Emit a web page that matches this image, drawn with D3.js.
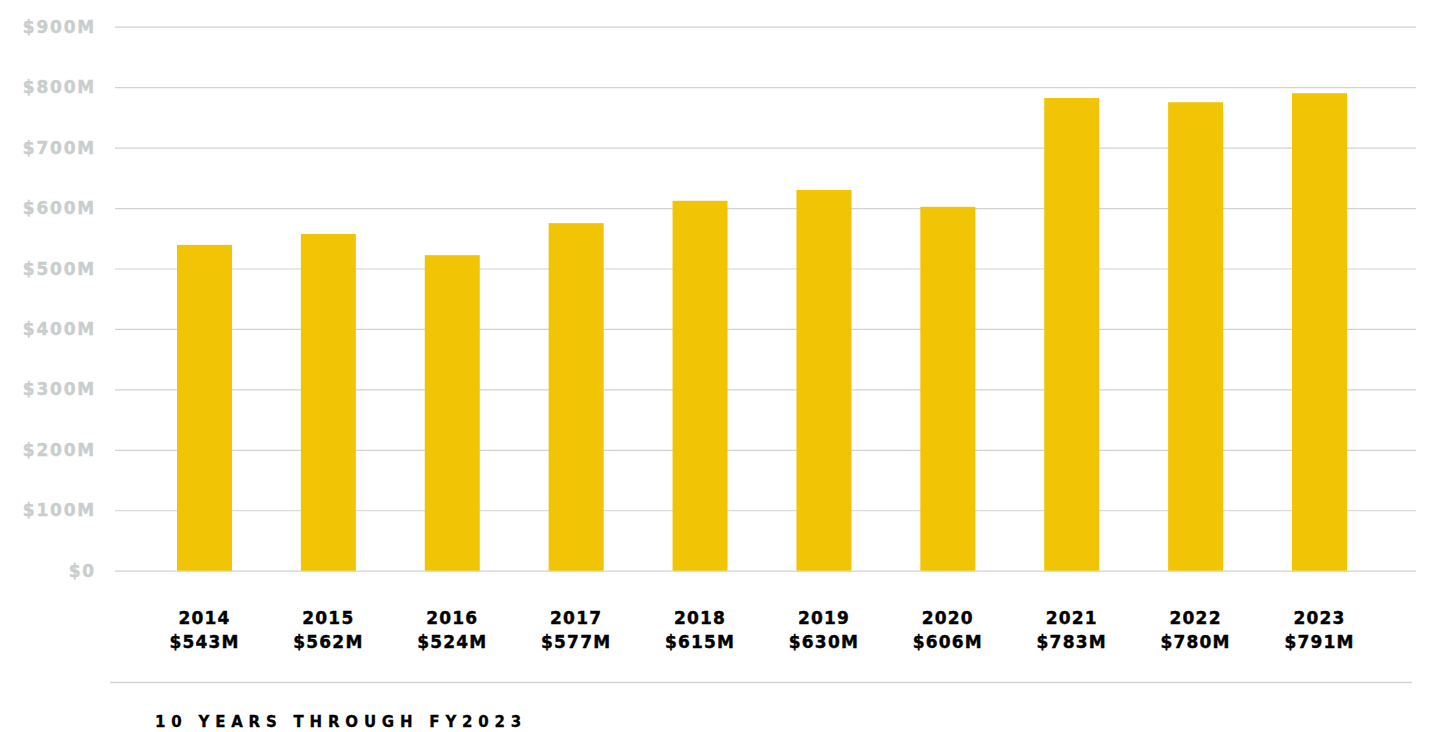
<!DOCTYPE html>
<html lang="en">
<head>
<meta charset="UTF-8">
<script src="https://d3js.org/d3.v7.min.js"></script>
<title>10 years through FY2023</title>
<style>
  body { margin: 0; background: #fff; }
  svg { display: block; }
  .ylab { font: bold 17px "DejaVu Sans", sans-serif; fill: #c9cecd; stroke: #c9cecd; stroke-width: 0.4px; letter-spacing: 1.8px; }
  .xlab { font: bold 17px "DejaVu Sans", sans-serif; fill: #000; stroke: #000; stroke-width: 0.4px; letter-spacing: 1.2px; }
  .foot { font: bold 15px "DejaVu Sans", sans-serif; fill: #000; stroke: #000; stroke-width: 0.3px; letter-spacing: 5.8px; }
</style>
</head>
<body>
<svg></svg>
<script>
const years = ["2014", "2015", "2016", "2017", "2018", "2019", "2020", "2021", "2022", "2023"];
// bar heights as drawn, in $M
const values = [539, 557, 522, 575, 612, 630, 602, 782, 775, 790];
// amounts printed under each bar
const amountLabels = ["$543M", "$562M", "$524M", "$577M", "$615M", "$630M", "$606M", "$783M", "$780M", "$791M"];
const yTicks = [0, 100, 200, 300, 400, 500, 600, 700, 800, 900];
const footTitle = "10 YEARS THROUGH FY2023";

const w = 1432, h = 732;
const svg = d3.select("svg").attr("width", w).attr("height", h);

const y = d3.scaleLinear().domain([0, 900]).range([570.7, 26.7]);
const x = d3.scaleBand().domain(years).range([142.55, 1381.45])
    .paddingInner(0.556).paddingOuter(0.278);

// gridlines + y labels
const grid = svg.append("g").attr("transform", "translate(1416,0)")
    .call(d3.axisLeft(y).tickValues(yTicks).tickSize(1301).tickFormat(""));
grid.select(".domain").remove();
grid.selectAll("line").attr("stroke", "#cfd3d2").attr("stroke-width", 1.2);

svg.append("g").selectAll("text")
    .data(yTicks)
    .enter()
    .append("text")
    .attr("class", "ylab")
    .attr("x", 96)
    .attr("y", d => y(d))
    .attr("dy", "0.36em")
    .attr("text-anchor", "end")
    .text(d => d === 0 ? "$0" : "$" + d + "M");

// bars
svg.append("g").selectAll("rect")
    .data(values)
    .enter()
    .append("rect")
    .attr("x", (d, i) => x(years[i]))
    .attr("y", d => y(d))
    .attr("width", x.bandwidth())
    .attr("height", d => y(0) - y(d))
    .attr("fill", "#f2c406");

// year + amount labels
const lab = svg.append("g").selectAll("text")
    .data(years)
    .enter()
    .append("text")
    .attr("class", "xlab")
    .attr("text-anchor", "middle")
    .attr("x", d => x(d) + x.bandwidth() / 2);
lab.append("tspan").attr("y", 624).text(d => d);
lab.append("tspan").attr("x", d => x(d) + x.bandwidth() / 2).attr("y", 648)
    .text((d, i) => amountLabels[i]);

// separator and footer
svg.append("line")
    .attr("x1", 110).attr("x2", 1412)
    .attr("y1", 682.5).attr("y2", 682.5)
    .attr("stroke", "#cfd3d2").attr("stroke-width", 1.5);

svg.append("text")
    .attr("class", "foot")
    .attr("x", 155)
    .attr("y", 727)
    .text(footTitle);
</script>
</body>
</html>
